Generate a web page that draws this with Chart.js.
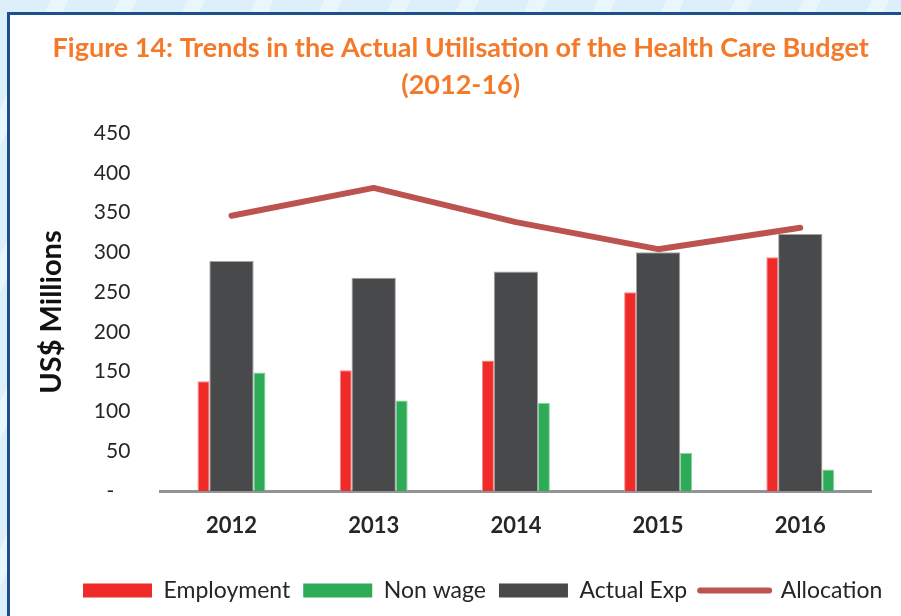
<!DOCTYPE html>
<html>
<head>
<meta charset="utf-8">
<script src="https://cdn.jsdelivr.net/npm/chart.js@4/dist/chart.umd.min.js"></script>
<style>
  html, body { margin: 0; padding: 0; width: 901px; height: 616px; overflow: hidden; }
  body { background: repeating-linear-gradient(115deg, #dcEFFA 0px, #dcEFFA 46px, #eaf6fd 46px, #eaf6fd 62px); position: relative; }
  #frame { position: absolute; left: 7px; top: 12px; width: 920px; height: 640px; background: #ffffff;
           border-left: 3px solid #1d4f8c; border-top: 3px solid #1d4f8c; }
  #c { position: absolute; left: 0; top: 0; }
</style>
</head>
<body>
<div id="frame"></div>
<canvas id="c" width="901" height="616"></canvas>
<script>
const categories = ['2012', '2013', '2014', '2015', '2016'];
const employment = [138, 152, 164, 250, 294];
const nonWage = [149, 114, 111, 48, 27];
const actualExp = [289, 268, 276, 300, 323];
const allocation = [346, 381, 338, 304, 331];
const yTickMin = 0, yTickMax = 450, yTickStep = 50;
const seriesNames = ['Employment', 'Non wage', 'Actual Exp', 'Allocation'];
const titleLines = ['Figure 14: Trends in the Actual Utilisation of the Health Care Budget', '(2012-16)'];
const yTitle = 'US$ Millions';

const shiftPlugin = {
  id: 'shiftBlocks',
  afterLayout(chart) {
    const t = chart.titleBlock, l = chart.legend;
    if (t) { t.left += 25; t.right += 25; }
    if (l) { l.left += 47; l.right += 47; }
  }
};

const CAT = 0.59;
const ctx = document.getElementById('c').getContext('2d');
new Chart(ctx, {
  data: {
    labels: categories,
    datasets: [
      { type: 'bar', label: seriesNames[0], data: employment,
        backgroundColor: '#ee2b29', borderColor: '#f58c8a', borderWidth: 1,
        barPercentage: 0.43, categoryPercentage: CAT },
      { type: 'bar', label: seriesNames[2], data: actualExp,
        backgroundColor: '#48494b', borderColor: '#a3a3a5', borderWidth: 1,
        barPercentage: 1.586, categoryPercentage: CAT },
      { type: 'bar', label: seriesNames[1], data: nonWage,
        backgroundColor: '#2dab57', borderColor: '#86d3a0', borderWidth: 1,
        barPercentage: 0.43, categoryPercentage: CAT },
      { type: 'line', label: seriesNames[3], data: allocation, order: -1,
        borderColor: '#bd5350', backgroundColor: '#bd5350', borderWidth: 6,
        borderCapStyle: 'round', borderJoinStyle: 'round', pointRadius: 0, tension: 0, fill: false }
    ]
  },
  options: {
    responsive: false,
    animation: false,
    layout: { padding: { left: 0, right: 29.6, top: 0, bottom: 4 } },
    plugins: {
      tooltip: { enabled: false },
      title: {
        display: true, text: titleLines, color: '#f47a2a',
        font: { family: 'Lato', weight: 'bold', size: 27, lineHeight: 1.37 },
        padding: { top: 30, bottom: 29 }
      },
      legend: {
        position: 'bottom',
        labels: {
          color: '#262626',
          font: { family: 'Lato', size: 23 },
          usePointStyle: true, pointStyleWidth: 69, boxHeight: 14, padding: 13,
          sort: (a, b) => seriesNames.indexOf(a.text) - seriesNames.indexOf(b.text),
          generateLabels(chart) {
            const items = Chart.defaults.plugins.legend.labels.generateLabels(chart);
            items.forEach(it => {
              const ds = chart.data.datasets[it.datasetIndex];
              if (ds.type === 'line') {
                it.pointStyle = 'line'; it.lineWidth = 6; it.lineCap = 'round';
                it.strokeStyle = ds.borderColor;
              } else {
                it.pointStyle = 'rect'; it.lineWidth = 0; it.fillStyle = ds.backgroundColor;
              }
            });
            return items;
          }
        }
      }
    },
    scales: {
      x: {
        type: 'category', offset: true,
        grid: { display: false, drawTicks: false },
        border: { display: true, color: '#939393', width: 3 },
        ticks: { color: '#262626', font: { family: 'Lato', weight: 'bold', size: 22 }, padding: 22 },
        afterFit(scale) { scale.height = scale.height + 4.5; }
      },
      y: {
        min: yTickMin, max: yTickMax,
        grid: { display: false, drawTicks: false },
        border: { display: false },
        ticks: { stepSize: yTickStep, color: '#262626', font: { family: 'Lato', size: 21 }, padding: 30,
                 callback: v => v === 0 ? '-   ' : String(v) },
        title: { display: true, text: yTitle, color: '#111111',
                 font: { family: 'Lato', weight: 'bold', size: 29 }, padding: { top: 34, bottom: 0 } },
        afterFit(scale) { scale.width = 160.4; }
      }
    }
  },
  plugins: [shiftPlugin]
});
</script>
</body>
</html>
